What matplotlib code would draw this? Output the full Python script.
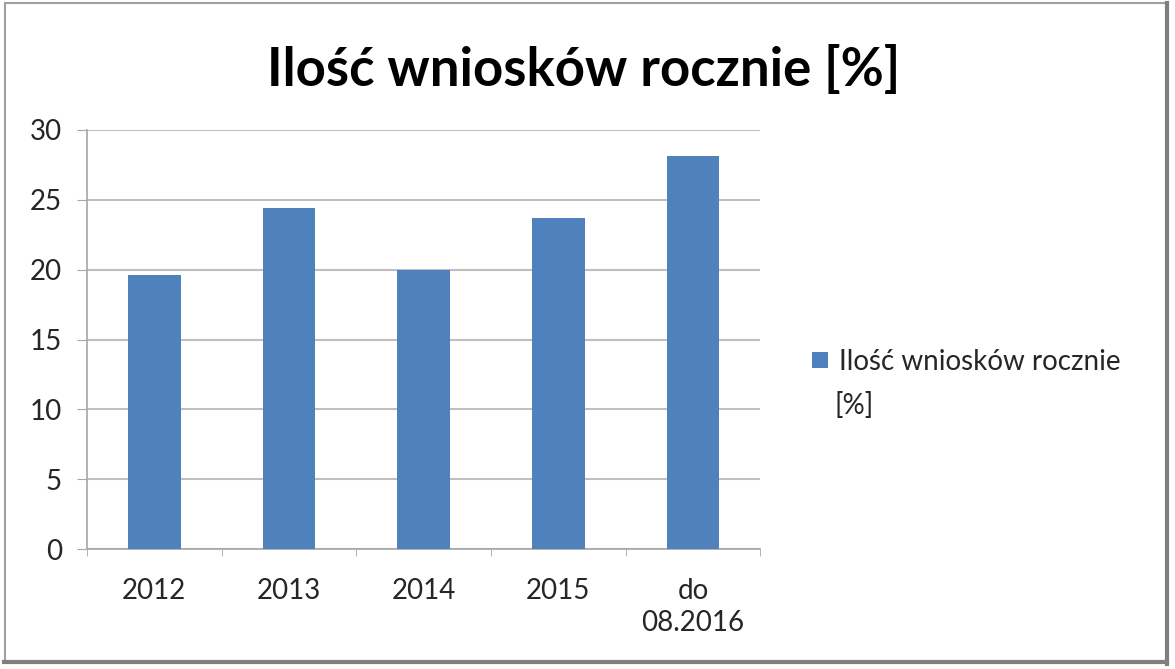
import matplotlib
matplotlib.use('Agg')
import matplotlib.pyplot as plt
from matplotlib.lines import Line2D

kategorie = ['2012', '2013', '2014', '2015', 'do\n08.2016']
wartosci = [19.6, 24.4, 20.0, 23.7, 28.1]
tytul = 'Ilość wniosków rocznie [%]'
etykieta = 'Ilość wniosków rocznie'
etykieta_cd = '[%]'

plt.rcParams['font.family'] = ['Lato', 'DejaVu Sans']

fig = plt.figure(figsize=(11.75, 6.69), dpi=100)
ax = fig.add_axes([0.074, 0.179, 0.573, 0.627])

x = range(len(kategorie))
ax.bar(x, wartosci, width=0.39, color='#4F81BD', label=etykieta, zorder=3)

ax.set_xlim(-0.5, len(kategorie) - 0.5)
ax.set_ylim(0, 30)
ax.set_yticks(range(0, 31, 5))
ax.set_xticks(x)
ax.set_xticklabels(kategorie, fontsize=20, color='#262626', linespacing=1.25, va='top')
ax.set_xticks([i - 0.5 for i in range(len(kategorie) + 1)], minor=True)
ax.tick_params(axis='x', which='major', length=0, pad=21)
ax.tick_params(axis='x', which='minor', length=5, color='#a6a6a6', direction='out')
ax.tick_params(axis='y', length=7, color='#a6a6a6', labelsize=20, labelcolor='#262626', pad=11)
ax.grid(axis='y', color='#bfbfbf', linewidth=1.5, zorder=0)
for s in ['top', 'right']:
    ax.spines[s].set_visible(False)
ax.spines['left'].set_color('#a6a6a6')
ax.spines['bottom'].set_color('#a6a6a6')
ax.spines['left'].set_linewidth(1.2)
ax.spines['bottom'].set_linewidth(1.2)

fig.text(0.497, 0.895, tytul, ha='center', va='center', fontsize=38, fontweight='bold', color='black')

# legenda: pierwsza linia w legendzie, druga linia pod nia
fig.legend(loc='center left', bbox_to_anchor=(0.67, 0.459), frameon=False, fontsize=20,
           handlelength=0.55, handleheight=0.55, handletextpad=0.4, labelcolor='#262626')
fig.text(0.7098, 0.394, etykieta_cd, ha='left', va='center', fontsize=20, color='#262626')

# ramka wykresu z cieniem
fig.add_artist(Line2D([0.004, 0.004], [0.012, 0.995], color='#a0a0a0', linewidth=1.5))
fig.add_artist(Line2D([0.004, 0.993], [0.995, 0.995], color='#a0a0a0', linewidth=1.5))
fig.add_artist(Line2D([0.993, 0.993], [0.008, 0.995], color='#7f7f7f', linewidth=3))
fig.add_artist(Line2D([0.003, 0.993], [0.010, 0.010], color='#7f7f7f', linewidth=3))

fig.savefig('out.png', dpi=100)
